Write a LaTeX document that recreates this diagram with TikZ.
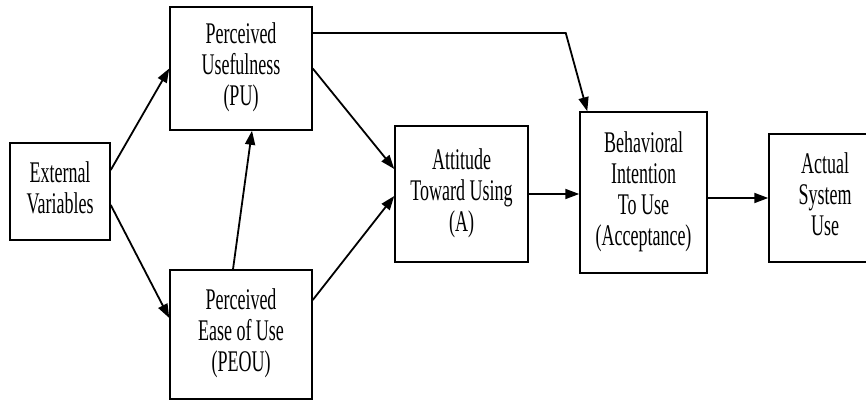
\documentclass[tikz,border=0pt]{standalone}
\usepackage{graphicx}
\usepackage{fontspec}
\setmainfont{Liberation Serif}
\usepackage{tikz}
\usetikzlibrary{arrows.meta,positioning,calc}
\newcommand{\boxtxt}[1]{\scalebox{0.6}[1]{\begin{tabular}{@{}c@{}}#1\end{tabular}}}

\begin{document}
\begin{tikzpicture}[
    x=0.5pt, y=-0.5pt,
    box/.style={draw, line width=0.75pt, inner sep=0pt, align=center,
      font=\fontsize{15}{15.5}\selectfont},
    arr/.style={-{Triangle[length=7pt, width=5pt]}, line width=0.9pt}
  ]
    \useasboundingbox (0,0) rectangle (866,401);
    \node[box, minimum width=50pt, minimum height=48.5pt] (ext) at (60,191.5) {\boxtxt{External\\Variables}};
    \node[box, minimum width=71pt, minimum height=61.5pt] (pu) at (241,68.5) {\boxtxt{Perceived\\Usefulness\\(PU)}};
    \node[box, minimum width=71pt, minimum height=64.5pt] (peou) at (241,334.5) {\boxtxt{Perceived\\Ease of Use\\(PEOU)}};
    \node[box, minimum width=66.5pt, minimum height=68pt] (att) at (461.5,194) {\boxtxt{Attitude\\Toward Using\\(A)}};
    \node[box, minimum width=63.5pt, minimum height=80.5pt] (bi) at (643.5,192.5) {\boxtxt{Behavioral\\Intention\\To Use\\(Acceptance)}};
    \node[box, minimum width=56pt, minimum height=64pt] (asu) at (825,198) {\boxtxt{Actual\\System\\Use}};
    \draw[arr] ($(ext.east)+(0,-21.5)$) -- (pu.west);
    \draw[arr] ($(ext.east)+(0,13.5)$) -- ($(peou.west)+(0,-16.5)$);
    \draw[arr] ($(peou.north)+(-8,0)$) -- ($(pu.south)+(11,0)$);
    \draw[arr] (pu.east) -- ($(att.west)+(0,-25)$);
    \draw[arr] ($(peou.east)+(0,-34.5)$) -- ($(att.west)+(0,2)$);
    \draw[arr] ($(pu.east)+(0,-35.5)$) -- ++(253,0) -- ($(bi.north west)+(8,0)$);
    \draw[arr] (att.east) -- (att.east -| bi.west);
    \draw[arr] (asu.west -| bi.east) -- (asu.west);
  \end{tikzpicture}
\end{document}
